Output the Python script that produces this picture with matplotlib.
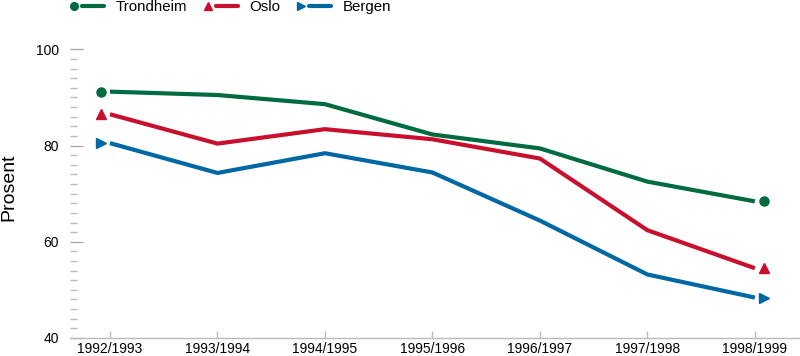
import matplotlib.pyplot as plt
from matplotlib.lines import Line2D
from matplotlib.legend_handler import HandlerBase
from matplotlib.transforms import ScaledTranslation
from matplotlib.ticker import MultipleLocator

plt.rcParams['font.family'] = ['Liberation Sans', 'DejaVu Sans']

seasons = ['1992/1993', '1993/1994', '1994/1995', '1995/1996',
           '1996/1997', '1997/1998', '1998/1999']
trondheim = [91.2, 90.5, 88.6, 82.3, 79.4, 72.5, 68.4]
oslo = [86.5, 80.4, 83.4, 81.3, 77.3, 62.4, 54.5]
bergen = [80.5, 74.3, 78.4, 74.4, 64.4, 53.2, 48.4]

series = [
    ('Trondheim', trondheim, '#006b3f', 'o', 6.5),
    ('Oslo', oslo, '#c8102e', '^', 7),
    ('Bergen', bergen, '#0067a5', '>', 7),
]


class MarkerThenLine(HandlerBase):
    # marker on the left, short thick line after it
    def create_artists(self, legend, orig_handle, xdescent, ydescent,
                       width, height, fontsize, trans):
        y = height / 2 - ydescent
        col = orig_handle.get_color()
        m = Line2D([-xdescent + 3], [y], marker=orig_handle.get_marker(),
                   markersize=orig_handle.get_markersize(),
                   color=col, linestyle='none')
        ln = Line2D([-xdescent + 9, -xdescent + width], [y, y],
                    color=col, linewidth=3, solid_capstyle='round')
        m.set_transform(trans)
        ln.set_transform(trans)
        return [ln, m]


fig = plt.figure(figsize=(8, 3.56), dpi=100)
ax = fig.add_axes([0.0875, 0.0506, 0.9125, 0.8109])

x = list(range(len(seasons)))
left = ScaledTranslation(-9 / 100, 0, fig.dpi_scale_trans)
right = ScaledTranslation(9 / 100, 0, fig.dpi_scale_trans)

handles = []
for name, vals, col, mk, ms in series:
    ax.plot(x, vals, color=col, lw=3, solid_joinstyle='round', solid_capstyle='butt')
    ax.plot([x[0]], [vals[0]], marker=mk, ms=ms, color=col, ls='none',
            transform=ax.transData + left, clip_on=False)
    ax.plot([x[-1]], [vals[-1]], marker=mk, ms=ms, color=col, ls='none',
            transform=ax.transData + right, clip_on=False)
    handles.append(Line2D([], [], color=col, marker=mk, ms=ms - 1, label=name))

ax.set_xlim(-0.372, 6.42)
ax.set_ylim(40, 100)
ax.set_xticks(x)
ax.set_xticklabels(seasons, fontsize=10)
ax.yaxis.set_major_locator(MultipleLocator(20))
ax.yaxis.set_minor_locator(MultipleLocator(2))
ax.tick_params(axis='y', which='major', direction='in', length=9, width=1,
               color='#aaaaaa', labelsize=10, pad=8)
ax.tick_params(axis='y', which='minor', direction='in', length=5, width=1,
               color='#bbbbbb')
ax.tick_params(axis='x', direction='in', length=5, width=1, color='#bbbbbb',
               labelsize=10, pad=3)

for s in ['top', 'right', 'left']:
    ax.spines[s].set_visible(False)
ax.spines['bottom'].set_color('#bbbbbb')
ax.spines['bottom'].set_linewidth(1)

fig.text(0.0, 0.475, 'Prosent', rotation=90, va='center', ha='left', fontsize=14)

fig.legend(handles=handles, handler_map={Line2D: MarkerThenLine()},
           loc='upper left', bbox_to_anchor=(0.087, 1.0), ncol=3,
           frameon=False, fontsize=10.8, handlelength=2.3, handletextpad=0.75,
           columnspacing=1.1, borderpad=0, borderaxespad=0)

fig.savefig('out.png', dpi=100)
